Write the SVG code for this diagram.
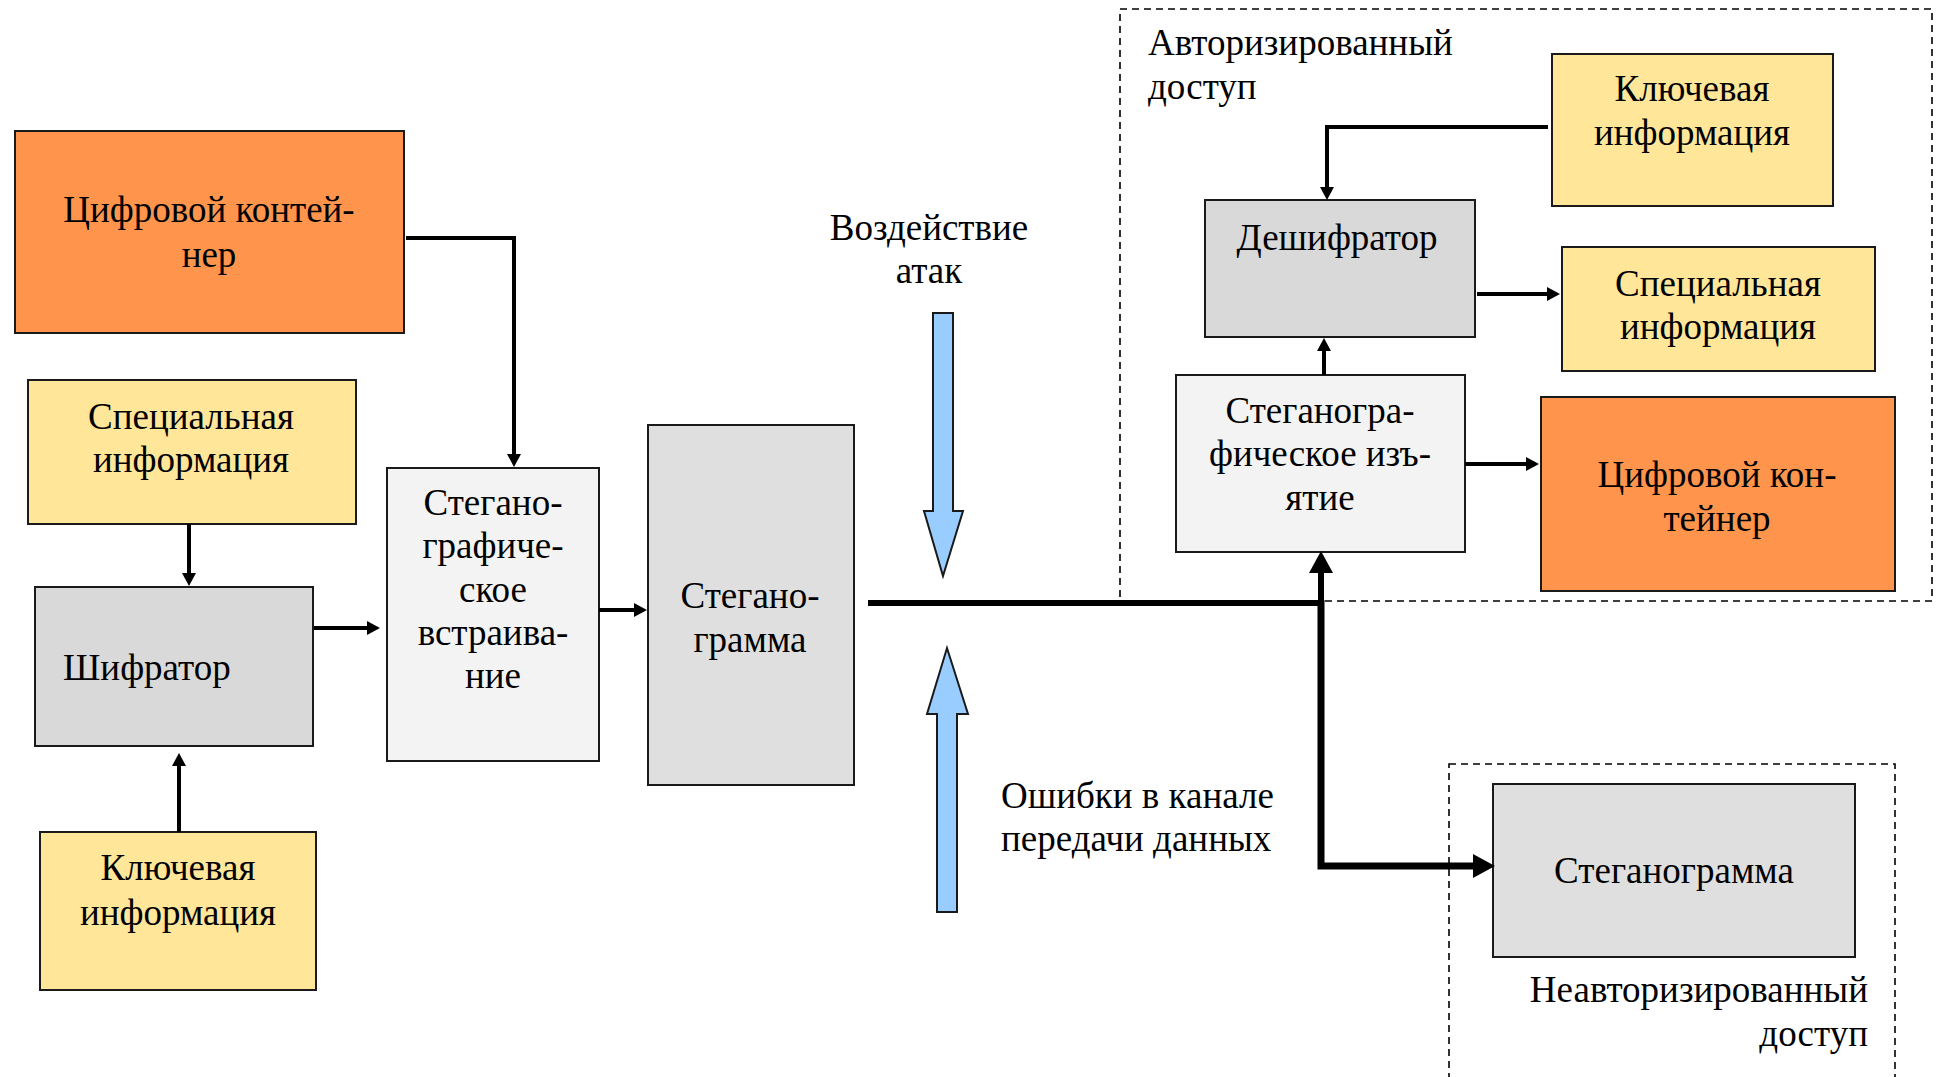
<svg xmlns="http://www.w3.org/2000/svg" width="1937" height="1077" viewBox="0 0 1937 1077">
<style>
  .box{stroke:#1a1a1a;stroke-width:2}
  .orange{fill:#FF954D}
  .yellow{fill:#FFE699}
  .gray{fill:#D9D9D9}
  .stego{fill:#DFDFDF}
  .light{fill:#F3F3F3}
  text{font-family:"Liberation Serif","Times New Roman",serif;font-size:37px;fill:#000}
  .c{text-anchor:middle}
  .r{text-anchor:end}
  .region{fill:none;stroke:#000;stroke-width:1.6;stroke-dasharray:7 5}
  .wire{fill:none;stroke:#000;stroke-width:4}
  .bus{fill:none;stroke:#000;stroke-width:6}
  .bus2{fill:none;stroke:#000;stroke-width:7}
  .blue{fill:#99CCFF;stroke:#1a1a1a;stroke-width:2;stroke-linejoin:miter}
</style>
<defs>
  <marker id="ah" markerUnits="userSpaceOnUse" markerWidth="14" markerHeight="14" refX="0" refY="7" orient="auto" overflow="visible">
    <path d="M0,0 L13,7 L0,14 z" fill="#000"/>
  </marker>
  <marker id="ahBig" markerUnits="userSpaceOnUse" markerWidth="24" markerHeight="24" refX="0" refY="12" orient="auto" overflow="visible">
    <path d="M0,0 L22,12 L0,24 z" fill="#000"/>
  </marker>
</defs>

<!-- access regions -->
<g id="region-authorized">
  <rect class="region" x="1120" y="9" width="812" height="592"/>
  <text x="1148" y="55">Авторизированный</text>
  <text x="1148" y="99">доступ</text>
</g>
<g id="region-unauthorized">
  <rect class="region" x="1449" y="764" width="446" height="330"/>
  <text class="r" x="1868" y="1002">Неавторизированный</text>
  <text class="r" x="1868" y="1046">доступ</text>
</g>

<!-- sender side -->
<g id="container-in">
  <rect class="box orange" x="15" y="131" width="389" height="202"/>
  <text class="c" x="209" y="222">Цифровой контей-</text>
  <text class="c" x="209" y="267">нер</text>
</g>
<g id="special-in">
  <rect class="box yellow" x="28" y="380" width="328" height="144"/>
  <text class="c" x="191" y="429">Специальная</text>
  <text class="c" x="191" y="472">информация</text>
</g>
<g id="encoder">
  <rect class="box gray" x="35" y="587" width="278" height="159"/>
  <text x="63" y="680">Шифратор</text>
</g>
<g id="key-in">
  <rect class="box yellow" x="40" y="832" width="276" height="158"/>
  <text class="c" x="178" y="880">Ключевая</text>
  <text class="c" x="178" y="925">информация</text>
</g>
<g id="embedding">
  <rect class="box light" x="387" y="468" width="212" height="293"/>
  <text class="c" x="493" y="515">Стегано-</text>
  <text class="c" x="493" y="558">графиче-</text>
  <text class="c" x="493" y="602">ское</text>
  <text class="c" x="493" y="645">встраива-</text>
  <text class="c" x="493" y="688">ние</text>
</g>
<g id="stegogram">
  <rect class="box stego" x="648" y="425" width="206" height="360"/>
  <text class="c" x="750" y="608">Стегано-</text>
  <text class="c" x="750" y="652">грамма</text>
</g>

<!-- channel influences -->
<g id="attacks">
  <polygon class="blue" points="933,313 953,313 953,511 963,511 943,576 924,511 933,511"/>
  <text class="c" x="929" y="240">Воздействие</text>
  <text class="c" x="929" y="283">атак</text>
</g>
<g id="channel-errors">
  <polygon class="blue" points="937,912 957,912 957,714 968,714 947,648 927,714 937,714"/>
  <text x="1001" y="808">Ошибки в канале</text>
  <text x="1001" y="851">передачи данных</text>
</g>

<!-- receiver side -->
<g id="key-out">
  <rect class="box yellow" x="1552" y="54" width="281" height="152"/>
  <text class="c" x="1692" y="101">Ключевая</text>
  <text class="c" x="1692" y="145">информация</text>
</g>
<g id="decoder">
  <rect class="box gray" x="1205" y="200" width="270" height="137"/>
  <text class="c" x="1337" y="250">Дешифратор</text>
</g>
<g id="special-out">
  <rect class="box yellow" x="1562" y="247" width="313" height="124"/>
  <text class="c" x="1718" y="296">Специальная</text>
  <text class="c" x="1718" y="339">информация</text>
</g>
<g id="extraction">
  <rect class="box light" x="1176" y="375" width="289" height="177"/>
  <text class="c" x="1320" y="423">Стеганогра-</text>
  <text class="c" x="1320" y="466">фическое изъ-</text>
  <text class="c" x="1320" y="510">ятие</text>
</g>
<g id="container-out">
  <rect class="box orange" x="1541" y="397" width="354" height="194"/>
  <text class="c" x="1717" y="487">Цифровой кон-</text>
  <text class="c" x="1717" y="531">тейнер</text>
</g>
<g id="stegogram-intercepted">
  <rect class="box stego" x="1493" y="784" width="362" height="173"/>
  <text class="c" x="1674" y="883">Стеганограмма</text>
</g>

<!-- connectors -->
<g id="connectors">
  <path class="wire" d="M406,238 H514 V454" marker-end="url(#ah)"/>
  <path class="wire" d="M189,524 V573" marker-end="url(#ah)"/>
  <path class="wire" d="M179,832 V766" marker-end="url(#ah)"/>
  <path class="wire" d="M314,628 H367" marker-end="url(#ah)"/>
  <path class="wire" d="M599,610 H634" marker-end="url(#ah)"/>
  <path class="bus" d="M868,603 H1324"/>
  <path class="bus" d="M1321,606 V573" marker-end="url(#ahBig)"/>
  <path class="bus2" d="M1321,600 V866 H1473" marker-end="url(#ahBig)"/>
  <path class="wire" d="M1548,127 H1327 V187" marker-end="url(#ah)"/>
  <path class="wire" d="M1477,294 H1547" marker-end="url(#ah)"/>
  <path class="wire" d="M1324,375 V351" marker-end="url(#ah)"/>
  <path class="wire" d="M1465,464 H1526" marker-end="url(#ah)"/>
</g>
</svg>
